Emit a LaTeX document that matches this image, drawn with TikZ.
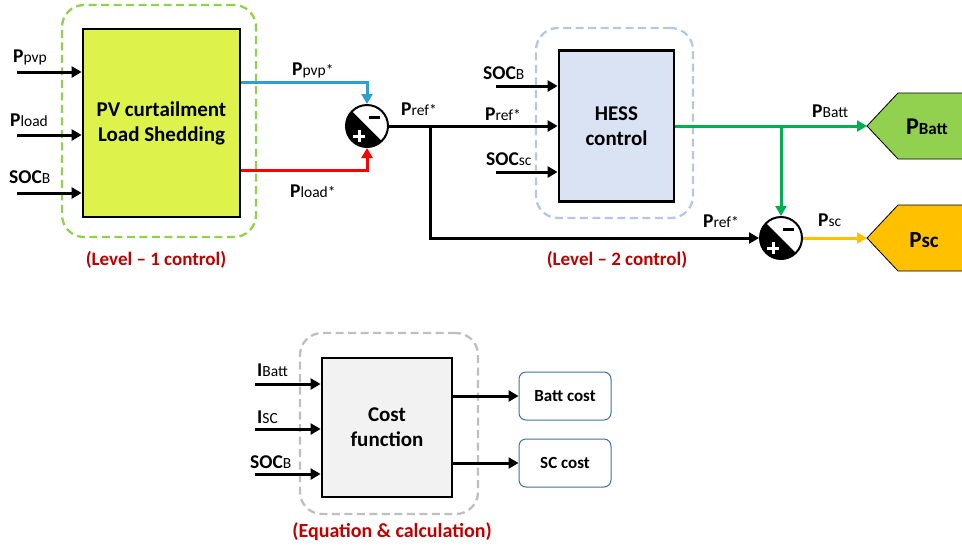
\documentclass[tikz,border=0pt]{standalone}
\usepackage{fontspec}
\setmainfont{Carlito}
\usetikzlibrary{arrows.meta,calc}
\definecolor{HessGreen}{HTML}{92D050}
\definecolor{HessLime}{HTML}{DDF34C}
\definecolor{HessBlue}{HTML}{2FA0CC}
\definecolor{HessRed}{HTML}{FF0000}
\definecolor{HessLine}{HTML}{B4C7E7}
\definecolor{HessPaleBlue}{HTML}{DAE3F3}
\definecolor{HessFlow}{HTML}{00B050}
\definecolor{HessAmber}{HTML}{FFC000}
\definecolor{HessGrey}{HTML}{BFBFBF}
\definecolor{HessPaleGrey}{HTML}{F2F2F2}
\definecolor{HessFrame}{HTML}{41719C}
\definecolor{HessDarkRed}{HTML}{C00000}
\newcommand{\plbl}[2]{{\fontsize{19.5}{19.5}\selectfont\bfseries #1}{\fontsize{15.5}{15.5}\selectfont #2}}
\tikzset{
  sig/.style={-{Triangle[length=10pt,width=11pt]}, line width=3pt, draw=black},
  flow/.style={sig, draw=#1, -{Triangle[length=10pt,width=11pt,#1]}},
  block/.style={draw=black, line width=2.8pt, align=center, inner sep=2pt,
                font=\fontsize{21}{25}\selectfont\bfseries},
  group/.style={draw=#1, dashed, dash pattern=on 8pt off 4.5pt, line width=2.3pt,
                rounded corners=22pt},
  costbox/.style={draw=HessFrame, line width=1pt, rounded corners=7pt, fill=white,
                  minimum width=92pt, minimum height=48pt,
                  font=\fontsize{17}{17}\selectfont\bfseries},
  sumnode/.style={circle, fill=black, draw=black, line width=2pt, minimum size=42pt,
    inner sep=0pt,
    path picture={
      \fill[white] (path picture bounding box.north west) --
        (path picture bounding box.south east) -- (path picture bounding box.north east) -- cycle;
      \draw[black, line width=3pt] ($(path picture bounding box.center)+(2,-9)$) -- ++(11,0);
      \draw[white, line width=3pt] ($(path picture bounding box.center)+(-14,10)$) -- ++(12,0)
        ($(path picture bounding box.center)+(-8,4)$) -- ++(0,12);
    }},
  lbl/.style={anchor=base west, inner sep=0pt},
  levellbl/.style={text=HessDarkRed, font=\fontsize{19}{19}\selectfont\bfseries},
}
\begin{document}
\begin{tikzpicture}[x=1pt,y=-1pt]
  \useasboundingbox (0,0) rectangle (962,547);
  % level 1
  \node[group=HessGreen, minimum width=194pt, minimum height=232pt] (grpone) at (159,121) {};
  \node[block, fill=HessLime, minimum width=157pt, minimum height=188pt] (pvbox) at (161.5,123)
    {PV curtailment\\Load Shedding};
  \coordinate (inppvp) at (17,72);
  \coordinate (inpload) at (17,135);
  \coordinate (inpsocb) at (17,193);
  \draw[sig] (inppvp) -- (inppvp -| pvbox.west);
  \draw[sig] (inpload) -- (inpload -| pvbox.west);
  \draw[sig] (inpsocb) -- (inpsocb -| pvbox.west);
  \node[lbl] (lblppvp) at (13,62) {\plbl{P}{pvp}};
  \node[lbl] (lblpload) at (10,126) {\plbl{P}{load}};
  \node[lbl] (lblsocb) at (9,183) {\plbl{SOC}{B}};
  \node[levellbl] (lvlone) at (156,260) {(Level – 1 control)};

  \node[sumnode] (sumA) at (367,126) {};
  \draw[flow=HessBlue] ($(pvbox.north east)+(0,55)$) -| (sumA.north);
  \draw[flow=HessRed] ($(pvbox.south east)+(0,-48)$) -| (sumA.south);
  \node[lbl] (lblppvpref) at (292,75) {\plbl{P}{pvp*}};
  \node[lbl] (lblploadref) at (290,197) {\plbl{P}{load*}};
  \node[lbl] (lblprefa) at (401,115) {\plbl{P}{ref*}};

  % level 2
  \node[group=HessLine, minimum width=157pt, minimum height=190pt] (grptwo) at (614.5,123) {};
  \node[block, fill=HessPaleBlue, minimum width=115pt, minimum height=151pt] (hess) at (616.5,126)
    {HESS\\control};
  \coordinate (hesssocb) at (496,86);
  \coordinate (hesssocsc) at (496,172);
  \draw[sig] (hesssocb) -- (hesssocb -| hess.west);
  \draw[sig] (hesssocsc) -- (hesssocsc -| hess.west);
  \draw[sig] (sumA.east) -- (sumA -| hess.west);
  \node[lbl] (lblhsocb) at (483,79) {\plbl{SOC}{B}};
  \node[lbl] (lblprefb) at (485,120) {\plbl{P}{ref*}};
  \node[lbl] (lblhsocsc) at (486,165) {\plbl{SOC}{sc}};
  \node[levellbl] (lvltwo) at (617,260) {(Level – 2 control)};

  \node[sumnode] (sumB) at (781,238) {};
  \coordinate (prefsplit) at (430,126);
  \draw[sig] (prefsplit) |- (sumB.west);
  \node[lbl] (lblprefc) at (703,227) {\plbl{P}{ref*}};

  \coordinate (batttip) at (867,126);
  \coordinate (sctip) at (867,238);
  \coordinate (battsplit) at (781,126);
  \draw[flow=HessFlow] (hess.east |- batttip) -- (batttip);
  \draw[flow=HessFlow] (battsplit) -- (sumB.north);
  \draw[flow=HessAmber] (sumB.east) -- (sctip);
  \node[lbl] (lblpbatt) at (812,117) {\plbl{P}{Batt}};
  \node[lbl] (lblpsc) at (818,226) {\plbl{P}{sc}};

  \draw[fill=HessGreen, line width=0.8pt] (batttip) -- ++(31,-33) -- ++(80,0) -- ++(0,66)
    -- ++(-80,0) -- cycle;
  \draw[fill=HessAmber, line width=0.8pt] (sctip) -- ++(31,-33) -- ++(80,0) -- ++(0,66)
    -- ++(-80,0) -- cycle;
  \node[font=\bfseries] (outbatt) at (927,127)
    {{\fontsize{24}{24}\selectfont P}{\fontsize{17}{17}\selectfont Batt}};
  \node[font=\bfseries] (outsc) at (924,240)
    {{\fontsize{23}{23}\selectfont P}{\fontsize{21}{21}\selectfont sc}};

  % cost
  \node[group=HessGrey, minimum width=178pt, minimum height=181pt] (grpcost) at (389,423.5) {};
  \node[block, fill=HessPaleGrey, minimum width=130pt, minimum height=139pt] (cost) at (387,427.5)
    {Cost\\function};
  \coordinate (costibatt) at (255,384);
  \coordinate (costisc) at (255,429);
  \coordinate (costsocb) at (255,474);
  \draw[sig] (costibatt) -- (costibatt -| cost.west);
  \draw[sig] (costisc) -- (costisc -| cost.west);
  \draw[sig] (costsocb) -- (costsocb -| cost.west);
  \node[lbl] (lblibatt) at (257,376) {\plbl{I}{Batt}};
  \node[lbl] (lblisc) at (257,423) {\plbl{I}{SC}};
  \node[lbl] (lblcsocb) at (250,468) {\plbl{SOC}{B}};
  \node[costbox] (battcost) at (565,396) {Batt cost};
  \node[costbox] (sccost) at (565,463) {SC cost};
  \draw[sig] (cost.east |- battcost) -- (battcost.west);
  \draw[sig] (cost.east |- sccost) -- (sccost.west);
  \node[levellbl, font=\fontsize{20}{20}\selectfont\bfseries] (lvlcost) at (392,532)
    {(Equation \& calculation)};
\end{tikzpicture}
\end{document}
